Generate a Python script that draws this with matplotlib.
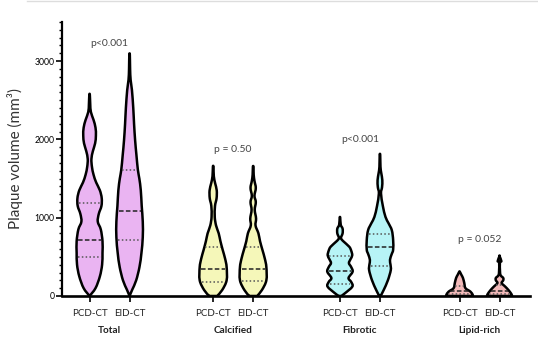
import numpy as np
import matplotlib
matplotlib.use("Agg")
import matplotlib.pyplot as plt
from matplotlib.ticker import MultipleLocator
from matplotlib.path import Path
from matplotlib.patches import PathPatch

plt.rcParams['font.family'] = ['Lato', 'DejaVu Sans']

groups = ['Total', 'Calcified', 'Fibrotic', 'Lipid-rich']
methods = ['PCD-CT', 'EID-CT']
colors = ['#eab4f2', '#f5f7b9', '#b7f4f6', '#f2b9b9']
p_values = ['p<0.001', 'p = 0.50', 'p<0.001', 'p = 0.052']
p_heights = [3230, 1870, 2000, 720]

# violin outlines: (volume, relative density width)
violins = {
    ('Total', 'PCD-CT'): [(0, 0), (100, 0.45), (250, 0.78), (400, 0.95), (550, 0.98), (700, 0.98),
                          (850, 0.85), (950, 0.62), (1050, 0.7), (1150, 0.9), (1250, 0.92), (1350, 0.78),
                          (1450, 0.5), (1550, 0.3), (1650, 0.18), (1750, 0.14), (1850, 0.25), (1950, 0.42),
                          (2050, 0.48), (2150, 0.45), (2250, 0.3), (2350, 0.1), (2450, 0.05), (2570, 0.02)],
    ('Total', 'EID-CT'): [(0, 0), (80, 0.2), (200, 0.5), (370, 0.75), (550, 0.9), (750, 1.0), (950, 1.0),
                          (1150, 0.92), (1350, 0.85), (1500, 0.74), (1610, 0.63), (1800, 0.52), (1990, 0.42),
                          (2200, 0.34), (2400, 0.28), (2630, 0.18), (2760, 0.08), (2900, 0.04), (3080, 0.02)],
    ('Calcified', 'PCD-CT'): [(0, 0.3), (75, 0.68), (200, 1.02), (370, 1.02), (480, 0.9), (590, 0.72),
                              (700, 0.55), (800, 0.42), (900, 0.22), (1010, 0.12), (1150, 0.14), (1250, 0.26),
                              (1350, 0.27), (1440, 0.15), (1530, 0.05), (1650, 0.02)],
    ('Calcified', 'EID-CT'): [(0, 0.3), (75, 0.66), (200, 1.0), (370, 1.0), (480, 0.88), (590, 0.7),
                              (700, 0.52), (800, 0.4), (900, 0.18), (990, 0.22), (1100, 0.12), (1200, 0.2),
                              (1280, 0.1), (1380, 0.2), (1470, 0.1), (1550, 0.04), (1650, 0.02)],
    ('Fibrotic', 'PCD-CT'): [(0, 0.1), (35, 0.38), (120, 0.94), (180, 0.85), (230, 0.65), (310, 0.96),
                             (370, 0.85), (420, 0.68), (470, 0.8), (520, 0.93), (580, 0.85), (630, 0.7),
                             (700, 0.25), (740, 0.08), (800, 0.2), (860, 0.2), (910, 0.06), (1000, 0.02)],
    ('Fibrotic', 'EID-CT'): [(0, 0.05), (75, 0.28), (200, 0.6), (330, 0.82), (400, 0.8), (460, 0.76),
                             (530, 0.88), (590, 1.0), (715, 1.0), (840, 0.9), (930, 0.65), (1010, 0.42),
                             (1150, 0.22), (1310, 0.08), (1390, 0.16), (1480, 0.18), (1570, 0.1),
                             (1650, 0.04), (1800, 0.02)],
    ('Lipid-rich', 'PCD-CT'): [(0, 1.0), (15, 1.0), (55, 0.83), (100, 0.45), (165, 0.36), (230, 0.26),
                               (270, 0.14), (310, 0.02)],
    ('Lipid-rich', 'EID-CT'): [(0, 0.95), (25, 0.9), (75, 0.68), (120, 0.43), (165, 0.16), (200, 0.28),
                               (230, 0.28), (260, 0.1), (300, 0.04), (435, 0.03), (445, 0.14), (510, 0.0)],
}

# median, first and third quartile
quartiles = {
    ('Total', 'PCD-CT'): (720, 500, 1190),
    ('Total', 'EID-CT'): (1090, 710, 1610),
    ('Calcified', 'PCD-CT'): (350, 180, 620),
    ('Calcified', 'EID-CT'): (350, 190, 620),
    ('Fibrotic', 'PCD-CT'): (320, 150, 510),
    ('Fibrotic', 'EID-CT'): (630, 385, 790),
    ('Lipid-rich', 'PCD-CT'): (60, 25, 130),
    ('Lipid-rich', 'EID-CT'): (65, 25, 135),
}

group_x = [1.19, 4.28, 7.45, 10.44]
offset = 0.5
max_half = 0.33


def smooth_outline(px, py):
    # catmull-rom through the outline points, drawn as cubic bezier pieces
    pts = np.column_stack([px, py])
    n = len(pts)
    verts = [pts[0]]
    codes = [Path.MOVETO]
    for i in range(n - 1):
        p0 = pts[max(i - 1, 0)]
        p1 = pts[i]
        p2 = pts[i + 1]
        p3 = pts[min(i + 2, n - 1)]
        verts += [p1 + (p2 - p0) / 6, p2 - (p3 - p1) / 6, p2]
        codes += [Path.CURVE4] * 3
    verts.append(pts[0])
    codes.append(Path.LINETO)
    return Path(np.array(verts), codes)


fig = plt.figure(figsize=(5.38, 3.41), dpi=100)
ax = fig.add_axes([0.1152, 0.132, 0.8698, 0.8035])

xticks = []
xlabels = []
for g, gname in enumerate(groups):
    for m, mname in enumerate(methods):
        xc = group_x[g] + (m - 0.5) * 2 * offset
        xticks.append(xc)
        xlabels.append(mname)
        prof = np.array(violins[(gname, mname)], dtype=float)
        yv = prof[:, 0]
        wv = prof[:, 1] * max_half
        xs = np.concatenate([xc - wv, (xc + wv)[::-1]])
        ys = np.concatenate([yv, yv[::-1]])
        patch = PathPatch(smooth_outline(xs, ys), facecolor=colors[g], edgecolor='black',
                          lw=1.8, joinstyle='round', zorder=3)
        ax.add_patch(patch)
        med, q1, q3 = quartiles[(gname, mname)]
        for val, ls, c in [(med, (0, (3, 1.5)), '#222222'), (q1, (0, (1, 1.5)), '#555555'),
                           (q3, (0, (1, 1.5)), '#555555')]:
            hw = np.interp(val, yv, wv) * 0.88
            ax.plot([xc - hw, xc + hw], [val, val], color=c, lw=1.1, linestyle=ls, zorder=4)
    ax.text(group_x[g], p_heights[g], p_values[g], ha='center', va='center',
            fontsize=7.5, color='#444444')
    ax.text(group_x[g], -0.125, gname, transform=ax.get_xaxis_transform(),
            ha='center', va='center', fontsize=7.2, fontweight='bold', color='#222222')

ax.set_xlim(0, 11.7)
ax.set_ylim(0, 3500)
ax.set_xticks(xticks)
ax.set_xticklabels(xlabels, fontsize=7, color='#222222')
ax.set_yticks([0, 1000, 2000, 3000])
ax.yaxis.set_minor_locator(MultipleLocator(100))
ax.tick_params(axis='y', which='major', labelsize=6.2, length=4, width=1.2, pad=1.5)
ax.tick_params(axis='y', which='minor', length=2.5, width=1.0)
ax.tick_params(axis='x', length=4, width=1.2, pad=5.5)
for s in ['top', 'right']:
    ax.spines[s].set_visible(False)
ax.spines['left'].set_linewidth(1.6)
ax.spines['bottom'].set_linewidth(1.9)
ax.set_ylabel('Plaque volume (mm³)', fontsize=11, color='#333333', labelpad=8)

fig.add_artist(plt.Line2D([0.05, 1.0], [0.996, 0.996], color='#dddddd', lw=1))

fig.savefig('out.png', dpi=100)
